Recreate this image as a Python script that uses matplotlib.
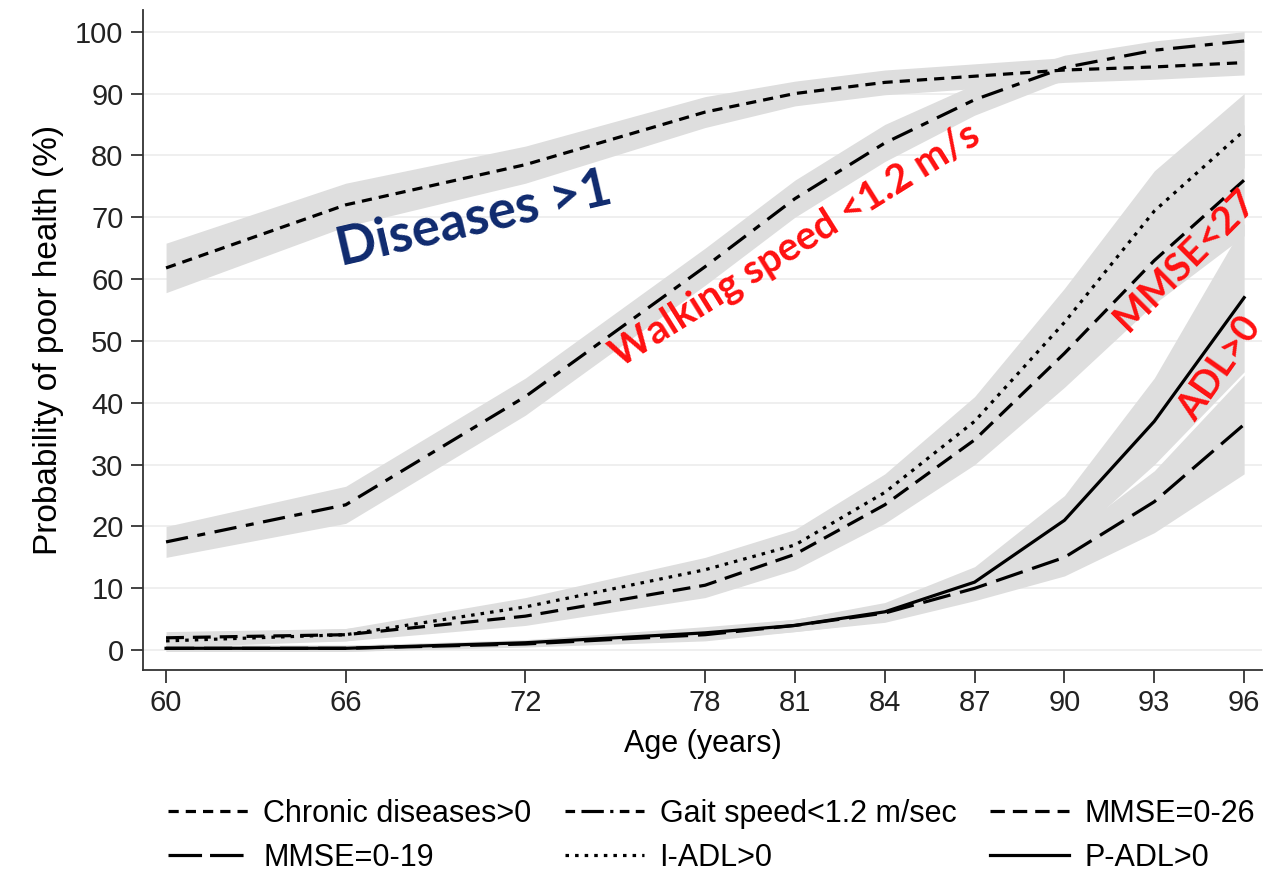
import matplotlib
matplotlib.use("Agg")
import matplotlib.pyplot as plt
from matplotlib.lines import Line2D

# data
ages = [60, 66, 72, 78, 81, 84, 87, 90, 93, 96]
chronic = [61.8, 72, 78.5, 87, 90, 91.8, 92.8, 93.8, 94.3, 95]
gait = [17.5, 23.5, 41, 62, 73, 82, 89, 94.2, 97, 98.5]
mmse26 = [2, 2.5, 5.5, 10.5, 15.5, 23.5, 34, 48, 63, 76]
iadl = [1.5, 2.5, 7, 13, 17, 25.5, 37, 53, 71, 84]
mmse19 = [0.3, 0.3, 1, 2.5, 4, 6, 10, 15, 24, 36.5]
padl = [0.3, 0.3, 1.2, 2.8, 4, 6.2, 11, 21, 37, 57]

# half widths of the grey confidence bands
chronic_ci = [4, 3.5, 3, 2.5, 2, 2, 2, 2, 2, 2]
gait_ci = [2.5, 3, 3, 3, 3, 3, 2.5, 2, 1.5, 1.5]
mmse26_ci = [1, 1, 1.5, 2, 2.5, 3, 4, 5.5, 7, 9]
iadl_ci = [1, 1, 1.5, 2, 2.5, 3, 4, 5.5, 6.5, 6]
mmse19_ci = [0.5, 0.5, 0.5, 1, 1, 1.5, 2, 3, 5, 8]
padl_ci = [0.5, 0.5, 0.5, 1, 1, 1.5, 2.5, 4, 7, 12]

labels = ["Chronic diseases>0", "Gait speed<1.2 m/sec", "MMSE=0-26",
          "MMSE=0-19", "I-ADL>0", "P-ADL>0"]
yticks = list(range(0, 101, 10))

plt.rcParams['font.family'] = ['Liberation Sans', 'DejaVu Sans']

fig = plt.figure(figsize=(12.71, 8.72), dpi=100)
ax = fig.add_axes([0.1125, 0.2317, 0.8805, 0.7568])

series = [
    (chronic, chronic_ci, (0, (3.2, 2.2))),
    (gait, gait_ci, (0, (7, 3, 2.5, 3))),
    (mmse26, mmse26_ci, (0, (5.6, 2.8))),
    (mmse19, mmse19_ci, (0, (8.8, 3.1))),
    (iadl, iadl_ci, (0, (1.1, 1.9))),
    (padl, padl_ci, "solid"),
]
# dash patterns for the short legend handles
legend_styles = [(0, (3.2, 2.2)), (0, (3, 2, 7, 2, 1, 2)), (0, (4.5, 2.5)),
                 (0, (10.5, 2.5)), (0, (1.1, 1.9)), "solid"]

band_color = "#dedede"
for vals, ci, ls in series:
    lo = [v - c for v, c in zip(vals, ci)]
    hi = [v + c for v, c in zip(vals, ci)]
    ax.fill_between(ages, lo, hi, color=band_color, lw=0, zorder=1)

for vals, ci, ls in series:
    ax.plot(ages, vals, color="black", lw=2.3, linestyle=ls, zorder=3)

handles = [Line2D([], [], color="black", lw=2.3, linestyle=ls, label=lab)
           for ls, lab in zip(legend_styles, labels)]

ax.set_xlim(59.23, 96.6)
ax.set_ylim(-3.2, 103.5)
ax.set_xticks(ages)
ax.set_yticks(yticks)
ax.tick_params(labelsize=21, length=9, width=1.2, pad=5, colors="#222222")
ax.yaxis.grid(True, color="#ececec", lw=1.2)
ax.set_axisbelow(True)
for s in ["top", "right"]:
    ax.spines[s].set_visible(False)
for s in ["left", "bottom"]:
    ax.spines[s].set_linewidth(1.3)
    ax.spines[s].set_color("#333333")

ax.set_xlabel("Age (years)", fontsize=22, labelpad=8)
ax.set_ylabel("Probability of poor health (%)", fontsize=24, labelpad=8)

# annotations
ax.text(70.3, 69.6, "Diseases >1", color="#0f2a6e", fontsize=38, fontweight="bold",
        family="Lato", rotation=13, ha="center", va="center")
ax.text(81.0, 65.5, "Walking speed <1.2 m/s", color="#ff1010", fontsize=28.5,
        fontweight="bold", family="Lato", rotation=32, ha="center", va="center")
ax.text(94.03, 63.1, "MMSE<27", color="#ff1010", fontsize=28,
        fontweight="bold", family="Lato", rotation=45, ha="center", va="center")
ax.text(95.2, 45.5, "ADL>0", color="#ff1010", fontsize=27,
        fontweight="bold", family="Lato", rotation=55, ha="center", va="center")

# legend filled by column, so reorder to read row by row
order = [0, 3, 1, 4, 2, 5]
fig.legend(handles=[handles[i] for i in order], loc="lower left",
           bbox_to_anchor=(0.118, -0.022, 0.884, 0.1), mode="expand",
           ncol=3, frameon=False, fontsize=22, handlelength=2.6,
           handletextpad=0.5, labelspacing=0.45, borderpad=0.1)

fig.savefig("out.png", dpi=100)
